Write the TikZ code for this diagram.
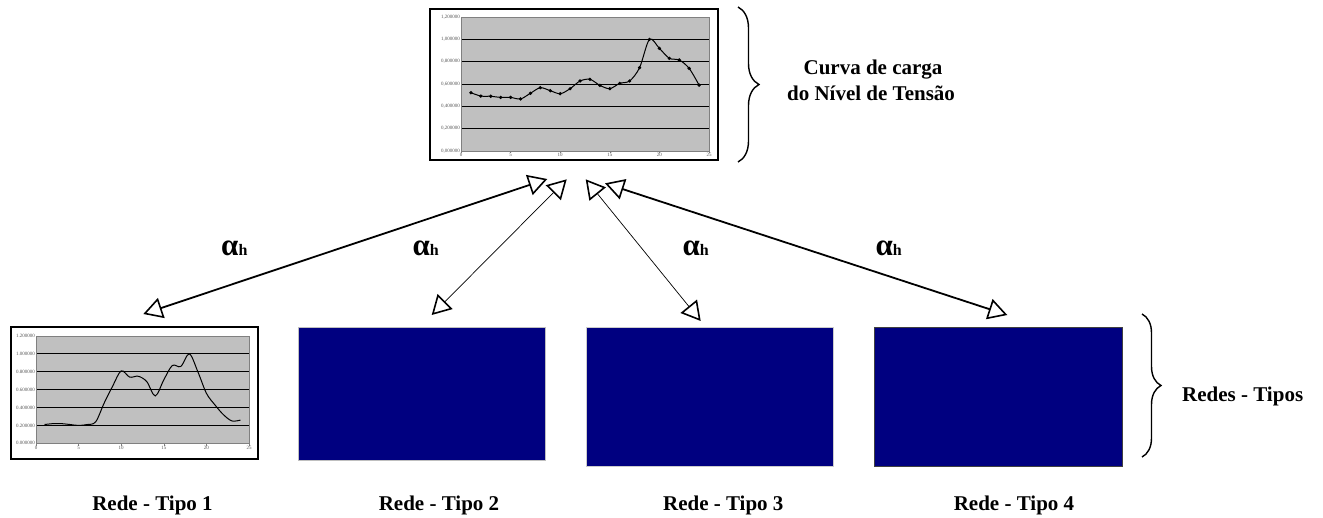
\documentclass[tikz,border=0pt]{standalone}
\usepackage{fontspec}
\setmainfont{Liberation Serif}
\usetikzlibrary{arrows.meta,decorations.pathreplacing}
\definecolor{navyfill}{RGB}{0,0,128}
\definecolor{plotgray}{RGB}{192,192,192}
\tikzset{
  tri/.tip={Triangle[open,length=19pt,width=21pt,line width=1.6pt]},
  chartbox/.style={draw=black,line width=1.3pt,fill=white,inner sep=0pt},
  bluebox/.style={fill=navyfill,inner sep=0pt},
  plotarea/.style={fill=plotgray,draw=gray,line width=0.6pt},
  gridline/.style={black,line width=0.9pt},
  ticklab/.style={font=\fontsize{5}{6}\selectfont,text=black!65,inner sep=1pt},
  curve/.style={black,line width=1pt},
  thickconn/.style={line width=1.8pt,arrows=tri-tri},
  thinconn/.style={line width=0.7pt,arrows=tri-tri},
  lab/.style={font=\fontsize{21}{25}\selectfont\bfseries,inner sep=0pt},
  alab/.style={inner sep=0pt,anchor=base west},
  bracestyle/.style={decorate,decoration={brace,amplitude=#1},line width=1.4pt},
}
\newcommand\alphah{\fontsize{31}{33}\selectfont\bfseries α\fontsize{16}{18}\selectfont h}
\begin{document}
\begin{tikzpicture}[x=1pt,y=-1pt]
\useasboundingbox (0,0) rectangle (1323,517);

% ---------- top chart ----------
\node[chartbox,minimum width=288pt,minimum height=151pt] (top) at (574,84.5) {};
\begin{scope}[shift={(461pt,-151pt)},x=9.92pt,y=111.67pt]
  \fill[plotgray] (0,0) rectangle (25,1.2);
  \foreach \v in {0.2,0.4,0.6,0.8,1.0,1.2} \draw[gridline] (0,\v) -- (25,\v);
  \draw[gray,line width=0.6pt] (0,0) rectangle (25,1.2);
  \foreach \xx in {0,5,...,25} \draw[gray,line width=0.5pt] (\xx,0) -- (\xx,-0.02);
  \foreach \v/\a/\b in {0/0/0,0.2/0/2,0.4/0/4,0.6/0/6,0.8/0/8,1.0/1/0,1.2/1/2}
    \node[ticklab,anchor=east] at (0,\v) {\a,\b00000};
  \foreach \xx in {0,5,...,25}
    \node[ticklab,anchor=north] at (\xx,-0.01) {\xx};
  \draw[curve] plot[smooth,tension=0.5,mark=*,mark size=1.1pt,mark options={fill=black}]
    coordinates {(1,0.522) (2,0.492) (3,0.490) (4,0.480) (5,0.480) (6,0.466)
    (7,0.517) (8,0.567) (9,0.540) (10,0.513) (11,0.558) (12,0.627) (13,0.642)
    (14,0.588) (15,0.558) (16,0.606) (17,0.627) (18,0.746) (19,1.000) (20,0.919)
    (21,0.830) (22,0.815) (23,0.740) (24,0.590)};
\end{scope}

% ---------- bottom-left chart ----------
\node[chartbox,minimum width=247pt,minimum height=132pt] (r1) at (134.5,393) {};
\begin{scope}[shift={(36pt,-443.3pt)},x=8.52pt,y=89.4pt]
  \fill[plotgray] (0,0) rectangle (25,1.2);
  \foreach \v in {0.2,0.4,0.6,0.8,1.0,1.2} \draw[gridline] (0,\v) -- (25,\v);
  \draw[gray,line width=0.6pt] (0,0) rectangle (25,1.2);
  \foreach \xx in {0,5,...,25} \draw[gray,line width=0.5pt] (\xx,0) -- (\xx,-0.025);
  \foreach \v/\a/\b in {0/0/0,0.2/0/2,0.4/0/4,0.6/0/6,0.8/0/8,1.0/1/0,1.2/1/2}
    \node[ticklab,anchor=east] at (0,\v) {\a.\b00000};
  \foreach \xx in {0,5,...,25}
    \node[ticklab,anchor=north] at (\xx,-0.015) {\xx};
  \draw[curve] plot[smooth,tension=0.55]
    coordinates {(1,0.21) (2,0.22) (3,0.22) (4,0.21) (5,0.20) (6,0.21)
    (7,0.24) (8,0.45) (9,0.64) (10,0.81) (11,0.74) (12,0.75) (13,0.69)
    (14,0.53) (15,0.71) (16,0.87) (17,0.86) (18,1.00) (19,0.80) (20,0.56)
    (21,0.43) (22,0.32) (23,0.25) (24,0.26)};
\end{scope}

% ---------- blue boxes ----------
\node[bluebox,draw=gray!50,line width=0.6pt,minimum width=247pt,minimum height=133pt] (r2) at (421.5,393.5) {};
\node[bluebox,draw=gray!40,line width=0.6pt,minimum width=247pt,minimum height=139pt] (r3) at (709.5,396.5) {};
\node[bluebox,draw=black!75,line width=0.8pt,minimum width=248pt,minimum height=139pt] (r4) at (998,396.5) {};

% ---------- connectors ----------
\coordinate (a1b) at (143.3,314);   \coordinate (a1t) at (547.3,179);
\coordinate (a2b) at (431.7,315);   \coordinate (a2t) at (566.7,179.3);
\coordinate (a3t) at (585.7,179.3); \coordinate (a3b) at (700.7,321);
\coordinate (a4t) at (605,183.3);   \coordinate (a4b) at (1007.3,315);
\draw[thickconn] (a1b) -- (a1t);
\draw[thinconn] (a2b) -- (a2t);
\draw[thinconn] (a3t) -- (a3b);
\draw[thickconn] (a4t) -- (a4b);

% ---------- alpha labels ----------
\node[alab] (al1) at (221,255) {\alphah};
\node[alab] (al2) at (412.3,255) {\alphah};
\node[alab] (al3) at (682.3,255) {\alphah};
\node[alab] (al4) at (875.3,255) {\alphah};

% ---------- braces ----------
\coordinate (bt1) at (738,7);    \coordinate (bt2) at (738,162);
\coordinate (bb1) at (1142,314); \coordinate (bb2) at (1142,457);
\draw[bracestyle=21pt] (bt1) -- (bt2);
\draw[bracestyle=19pt] (bb1) -- (bb2);

% ---------- texts ----------
\node[lab,anchor=base] (cl1) at (873,74) {Curva de carga};
\node[lab,anchor=base] (cl2) at (871,100.7) {do Nível de Tensão};
\node[lab,anchor=base west] (rt) at (1182,401.7) {Redes - Tipos};
\node[lab,anchor=base] (l1) at (152.5,510.7) {Rede - Tipo 1};
\node[lab,anchor=base] (l2) at (439,510.7) {Rede - Tipo 2};
\node[lab,anchor=base] (l3) at (723.3,510.7) {Rede - Tipo 3};
\node[lab,anchor=base] (l4) at (1014,510.7) {Rede - Tipo 4};
\end{tikzpicture}
\end{document}
